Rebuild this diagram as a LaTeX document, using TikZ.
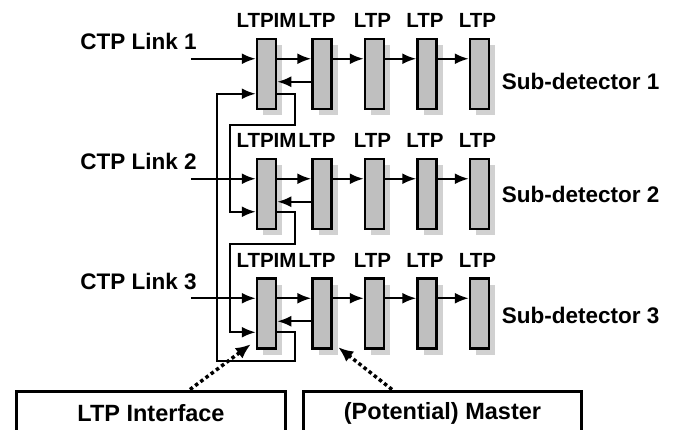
\documentclass[tikz,border=0pt]{standalone}
\usepackage{fontspec}
\setmainfont{Liberation Sans}
\usetikzlibrary{shapes,arrows.meta,shadows,positioning}
\tikzstyle{ltp} = [rectangle, draw, line width=2.5pt, fill=black!25,
  minimum width=19pt, minimum height=70pt, inner sep=0pt,
  drop shadow={shadow xshift=6pt, shadow yshift=-6pt, fill=black!18, opacity=1}]
\tikzset{link/.style={draw, line width=2.2pt, -{Latex[length=14pt,width=11pt]}}}
\tikzset{dotlink/.style={draw, line width=3.5pt, dash pattern=on 3.5pt off 3pt,
  -{Latex[length=15pt,width=13pt]}}}
\tikzstyle{tag} = [font=\bfseries\fontsize{20.5}{20.5}\selectfont, inner sep=0pt, anchor=south]
\tikzstyle{txt} = [font=\bfseries\fontsize{22.5}{22.5}\selectfont, inner sep=0pt]
\tikzstyle{panel} = [rectangle, draw, line width=3pt, minimum height=44pt,
  font=\bfseries\fontsize{23.5}{23.5}\selectfont]

\begin{document}
\begin{tikzpicture}[x=1pt, y=-1pt, node distance=52.5pt]
  \useasboundingbox (0,0) rectangle (684,429);
  \clip (0,0) rectangle (684,429);

  % row 1
  \node [ltp] (im1) at (266.5,74) {};
  \node [ltp, right of=im1, node distance=55.5pt] (ltp12) {};
  \node [ltp, right of=ltp12] (ltp13) {};
  \node [ltp, right of=ltp13] (ltp14) {};
  \node [ltp, right of=ltp14] (ltp15) {};

  % row 2
  \node [ltp, below of=im1, node distance=120pt] (im2) {};
  \node [ltp, right of=im2, node distance=55.5pt] (ltp22) {};
  \node [ltp, right of=ltp22] (ltp23) {};
  \node [ltp, right of=ltp23] (ltp24) {};
  \node [ltp, right of=ltp24] (ltp25) {};

  % row 3
  \node [ltp, below of=im2, node distance=119.5pt] (im3) {};
  \node [ltp, right of=im3, node distance=55.5pt] (ltp32) {};
  \node [ltp, right of=ltp32] (ltp33) {};
  \node [ltp, right of=ltp33] (ltp34) {};
  \node [ltp, right of=ltp34] (ltp35) {};

  % labels above the boxes
  \node [tag] (tim1) at ([yshift=10pt]im1.north) {LTPIM};
  \node [tag] (t12) at ([xshift=-5pt,yshift=10pt]ltp12.north) {LTP};
  \node [tag] (t13) at ([xshift=-2pt,yshift=10pt]ltp13.north) {LTP};
  \node [tag] (t14) at ([xshift=-2pt,yshift=10pt]ltp14.north) {LTP};
  \node [tag] (t15) at ([xshift=-2pt,yshift=10pt]ltp15.north) {LTP};
  \node [tag] (tim2) at ([yshift=10pt]im2.north) {LTPIM};
  \node [tag] (t22) at ([xshift=-5pt,yshift=10pt]ltp22.north) {LTP};
  \node [tag] (t23) at ([xshift=-2pt,yshift=10pt]ltp23.north) {LTP};
  \node [tag] (t24) at ([xshift=-2pt,yshift=10pt]ltp24.north) {LTP};
  \node [tag] (t25) at ([xshift=-2pt,yshift=10pt]ltp25.north) {LTP};
  \node [tag] (tim3) at ([yshift=10pt]im3.north) {LTPIM};
  \node [tag] (t32) at ([xshift=-5pt,yshift=10pt]ltp32.north) {LTP};
  \node [tag] (t33) at ([xshift=-2pt,yshift=10pt]ltp33.north) {LTP};
  \node [tag] (t34) at ([xshift=-2pt,yshift=10pt]ltp34.north) {LTP};
  \node [tag] (t35) at ([xshift=-2pt,yshift=10pt]ltp35.north) {LTP};

  \node [txt, anchor=base east] (ctp1) at ([xshift=-59pt,yshift=-12pt]im1.north west) {CTP Link 1};
  \node [txt, anchor=base east] (ctp2) at ([xshift=-59pt,yshift=-12pt]im2.north west) {CTP Link 2};
  \node [txt, anchor=base east] (ctp3) at ([xshift=-59pt,yshift=-12pt]im3.north west) {CTP Link 3};
  \node [txt, anchor=base west] (sub1) at ([xshift=11.5pt,yshift=-52pt]ltp15.north east) {Sub-detector 1};
  \node [txt, anchor=base west] (sub2) at ([xshift=11.5pt,yshift=-45pt]ltp25.north east) {Sub-detector 2};
  \node [txt, anchor=base west] (sub3) at ([xshift=11.5pt,yshift=-46pt]ltp35.north east) {Sub-detector 3};

  \node [panel, minimum width=269pt] (iface) at (151,413) {LTP Interface};
  \node [panel, minimum width=278pt] (master) at (442.5,413) {(Potential) Master};

  % links into the LTPIMs
  \path [link] ([xshift=-65pt,yshift=-21pt]im1.north west) -- ([yshift=-21pt]im1.north west);
  \path [link] ([xshift=-65pt,yshift=-21pt]im2.north west) -- ([yshift=-21pt]im2.north west);
  \path [link] ([xshift=-65pt,yshift=-21pt]im3.north west) -- ([yshift=-21pt]im3.north west);

  % chains
  \path [link] ([yshift=-21pt]im1.north east) -- ([yshift=-21pt]ltp12.north west);
  \path [link] ([yshift=-44pt]ltp12.north west) -- ([yshift=-44pt]im1.north east);
  \path [link] ([yshift=-21pt]ltp12.north east) -- ([yshift=-21pt]ltp13.north west);
  \path [link] ([yshift=-21pt]ltp13.north east) -- ([yshift=-21pt]ltp14.north west);
  \path [link] ([yshift=-21pt]ltp14.north east) -- ([yshift=-21pt]ltp15.north west);

  \path [link] ([yshift=-21pt]im2.north east) -- ([yshift=-21pt]ltp22.north west);
  \path [link] ([yshift=-44pt]ltp22.north west) -- ([yshift=-44pt]im2.north east);
  \path [link] ([yshift=-21pt]ltp22.north east) -- ([yshift=-21pt]ltp23.north west);
  \path [link] ([yshift=-21pt]ltp23.north east) -- ([yshift=-21pt]ltp24.north west);
  \path [link] ([yshift=-21pt]ltp24.north east) -- ([yshift=-21pt]ltp25.north west);

  \path [link] ([yshift=-21pt]im3.north east) -- ([yshift=-21pt]ltp32.north west);
  \path [link] ([yshift=-44pt]ltp32.north west) -- ([yshift=-44pt]im3.north east);
  \path [link] ([yshift=-21pt]ltp32.north east) -- ([yshift=-21pt]ltp33.north west);
  \path [link] ([yshift=-21pt]ltp33.north east) -- ([yshift=-21pt]ltp34.north west);
  \path [link] ([yshift=-21pt]ltp34.north east) -- ([yshift=-21pt]ltp35.north west);

  % ring between the LTPIMs
  \path [link] ([yshift=-56pt]im1.north east) -- ++(18,0)
    |- ([xshift=-26pt,yshift=-15pt]im1.south west) |- ([yshift=-54pt]im2.north west);
  \path [link] ([yshift=-54pt]im2.north east) -- ++(18,0)
    |- ([xshift=-26pt,yshift=-14pt]im2.south west) |- ([yshift=-55pt]im3.north west);
  \path [link] ([yshift=-55pt]im3.north east) -- ++(18,0)
    |- ([xshift=-39pt,yshift=-11pt]im3.south west) |- ([yshift=-56pt]im1.north west);

  \path [dotlink] ([xshift=39pt]iface.north) -- ([xshift=-5pt,yshift=5.5pt]im3.south west);
  \path [dotlink] ([xshift=-50.5pt]master.north) -- ([xshift=5.5pt,yshift=2.5pt]ltp32.south east);

\end{tikzpicture}
\end{document}
